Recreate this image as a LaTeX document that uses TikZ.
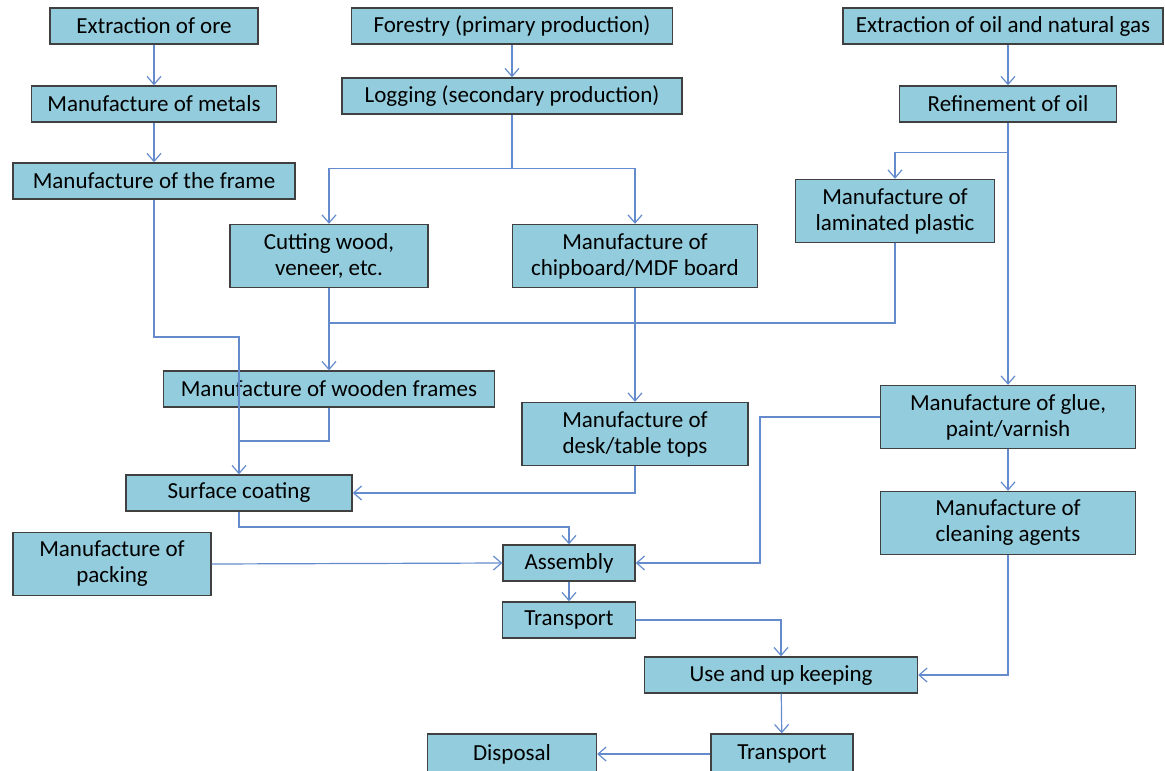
\documentclass[tikz,border=0pt]{standalone}
\usepackage{fontspec}
\setmainfont{Carlito}
\usepackage{xcolor}
\usetikzlibrary{arrows.meta}

\definecolor{boxfill}{RGB}{147,205,221}
\definecolor{boxline}{RGB}{64,64,64}
\definecolor{flowline}{RGB}{100,140,205}

\begin{document}
\begin{tikzpicture}[
  x=0.5pt, y=-0.5pt,
  every node/.style={draw=boxline, fill=boxfill, line width=0.7pt, minimum height=18pt, inner sep=1pt, align=center, font=\fontsize{11.5}{13}\selectfont},
  tall/.style={minimum height=31.5pt},
  flow/.style={draw=flowline, line width=0.6pt},
  arrow/.style={flow, -{Straight Barb[length=4pt,width=7pt]}}
]
  \useasboundingbox (0,0) rectangle (1165,770);

  % sources
  \node[minimum width=104pt] (ore) at (154,26) {Extraction of ore};
  \node[minimum width=160.5pt] (forestry) at (512,26) {Forestry (primary production)};
  \node[minimum width=160pt] (oilgas) at (1003,26) {Extraction of oil and natural gas};

  \node[minimum width=122.5pt] (metals) at (154,104) {Manufacture of metals};
  \node[minimum width=170pt] (logging) at (512,96) {Logging (secondary production)};
  \node[minimum width=108.5pt] (refine) at (1008,104) {Refinement of oil};

  \node[minimum width=141pt] (frame) at (154,181) {Manufacture of the frame};
  \node[tall, minimum width=99.5pt] (laminated) at (895,211) {Manufacture of\\laminated plastic};
  \node[tall, minimum width=99pt] (cutting) at (329,256) {Cutting wood,\\veneer, etc.};
  \node[tall, minimum width=122.5pt] (chipboard) at (635,256) {Manufacture of\\chipboard/MDF board};

  \node[minimum width=165.5pt] (wooden) at (329,389) {Manufacture of wooden frames};
  \node[tall, minimum width=113pt] (desk) at (635,434) {Manufacture of\\desk/table tops};
  \node[tall, minimum width=127.5pt] (glue) at (1008,417) {Manufacture of glue,\\paint/varnish};

  \node[minimum width=113pt] (coating) at (239,493) {Surface coating};
  \node[tall, minimum width=127.5pt] (cleaning) at (1008,523) {Manufacture of\\cleaning agents};
  \node[tall, minimum width=99pt] (packing) at (112,564) {Manufacture of\\packing};

  \node[minimum width=66pt] (assembly) at (569,563) {Assembly};
  \node[minimum width=66.5pt] (transport) at (569,620) {Transport};
  \node[minimum width=136.5pt] (use) at (781,675) {Use and up keeping};
  \node[minimum width=84.5pt, minimum height=20pt] (disposal) at (512,754) {Disposal};
  \node[minimum width=71pt, minimum height=20pt] (transportb) at (782,754) {Transport};

  % metal chain
  \draw[arrow] (ore) -- (metals);
  \draw[arrow] (metals) -- (frame);
  \draw[arrow] (frame.south) |- (coating.north |- 0,337) -- (coating.north);

  % wood chain
  \draw[arrow] (forestry) -- (logging);
  \draw[flow] (logging.south) -- ++(0,54) coordinate (split);
  \draw[arrow] (split) -| (cutting.north);
  \draw[arrow] (split) -| (chipboard.north);
  \draw[arrow] (cutting) -- (wooden);
  \draw[flow] (wooden.south) |- (coating.north |- 0,441);
  \draw[arrow] (chipboard) -- (desk);
  \draw[arrow] (desk.south) |- (coating.east);

  % oil chain
  \draw[arrow] (oilgas.south -| refine.north) -- (refine.north);
  \draw[arrow] (refine) -- (glue);
  \draw[arrow] (refine.south) ++(0,30) -| (laminated.north);
  \draw[flow] (laminated.south) |- (cutting.south |- 0,323);
  \draw[arrow] (glue) -- (cleaning);

  % assembly and after
  \draw[arrow] (coating.south) |- (assembly.north |- 0,527) -- (assembly.north);
  \draw[arrow] (packing.east) -- (assembly.west);
  \draw[arrow] (glue.west) -| (760,563) -- (assembly.east);
  \draw[arrow] (assembly) -- (transport);
  \draw[arrow] (transport.east) -| (use.north);
  \draw[arrow] (cleaning.south) |- (use.east);
  \draw[arrow] (use) -- (transportb);
  \draw[arrow] (transportb) -- (disposal);
\end{tikzpicture}
\end{document}
